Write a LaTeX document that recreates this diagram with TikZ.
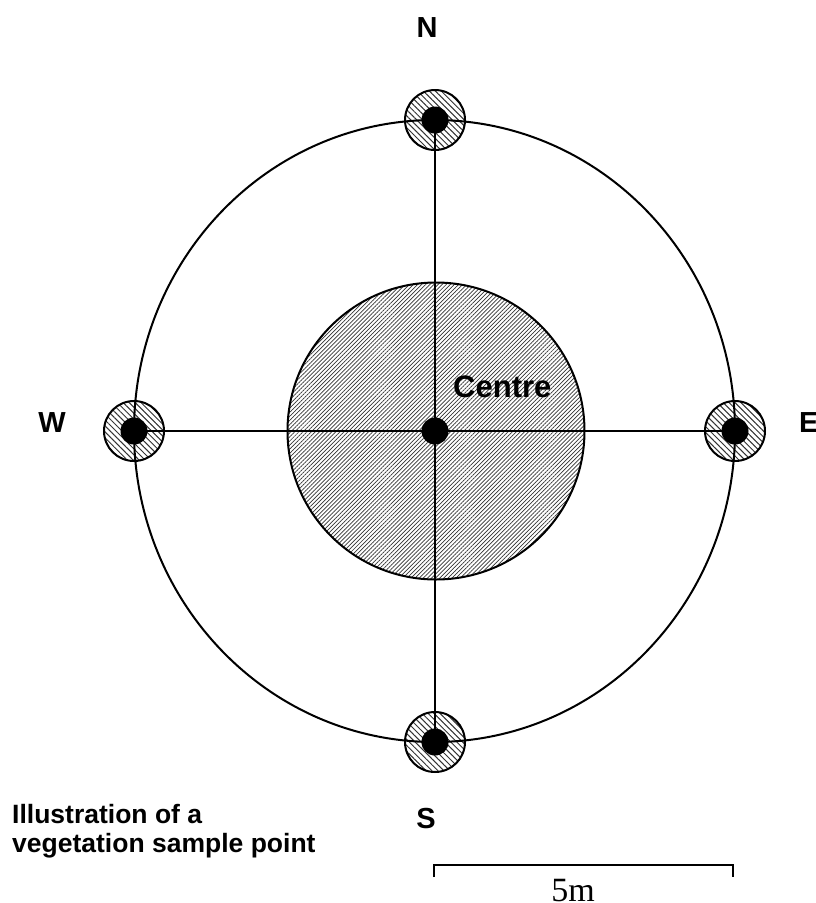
\documentclass[tikz,border=0pt]{standalone}
\usepackage{fontspec}
\setmainfont{Liberation Sans}
\newfontfamily\tnrfont{Liberation Serif}
\usetikzlibrary{patterns.meta}
\tikzset{
  outline/.style={line width=2pt},
  ring/.style={circle, draw, line width=2pt, minimum size=60pt, inner sep=0pt,
    pattern={Lines[angle=-45,distance=4.2pt,line width=1pt]}, pattern color=black!80},
  dot/.style={circle, fill=black, minimum size=27pt, inner sep=0pt},
  centrearea/.style={line width=2pt,
    pattern={Lines[angle=45,distance=2.9pt,line width=0.7pt]}, pattern color=black!80},
  lbl/.style={font=\bfseries\fontsize{29}{29}\selectfont, inner sep=0pt},
  captext/.style={font=\bfseries\fontsize{26.5}{29}\selectfont, inner sep=0pt, anchor=base west},
  scalebar/.style={line width=1.6pt}
}
\begin{document}
\begin{tikzpicture}[x=1pt,y=-1pt]
\useasboundingbox (0,0) rectangle (816,903);
% small hatched rings
\node[ring] (Nring) at (435,120) {};
\node[ring] (Sring) at (435,742) {};
\node[ring] (Wring) at (134,431) {};
\node[ring] (Ering) at (735,431) {};
% centre hatched circle
\draw[centrearea] (436,431) circle [radius=148.5];
% outer ellipse
\draw[outline] (434.5,431) ellipse [x radius=300.5, y radius=311];
% dots
\node[dot] (N) at (435,120) {};
\node[dot] (S) at (435,742) {};
\node[dot] (W) at (134,431) {};
\node[dot] (E) at (735,431) {};
\node[dot] (C) at (435,431) {};
% cross lines
\draw[outline] (N.center) -- (S.center);
\draw[outline] (W.center) -- (E.center);
% labels
\node[lbl, anchor=base] (Nl) at (427,37) {N};
\node[lbl, anchor=base] (Sl) at (426,828) {S};
\node[lbl, anchor=base] (Wl) at (52,432) {W};
\node[lbl, anchor=base west] (El) at (799,432) {E};
\node[font=\bfseries\fontsize{31}{31}\selectfont, inner sep=0pt, anchor=base west] (Cl) at (453,397) {Centre};
% caption
\node[captext] (cap1) at (12,823) {Illustration of a};
\node[captext] (cap2) at (12,852) {vegetation sample point};
% scale bar
\coordinate (sbLb) at (434,877);
\coordinate (sbLt) at (434,865);
\coordinate (sbRt) at (733,865);
\coordinate (sbRb) at (733,877);
\draw[scalebar] (sbLb) -- (sbLt) -- (sbRt) -- (sbRb);
\node[font=\tnrfont\fontsize{34}{34}\selectfont, inner sep=0pt, anchor=base] (sbl) at (573,901) {5m};
\end{tikzpicture}
\end{document}
